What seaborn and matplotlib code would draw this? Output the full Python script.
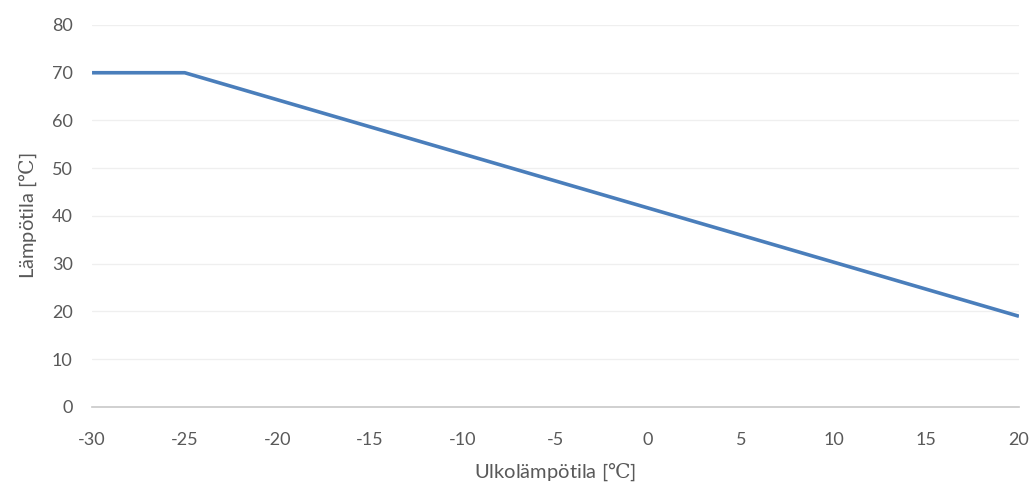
import matplotlib
matplotlib.use("Agg")
import matplotlib.pyplot as plt
import seaborn as sns
import pandas as pd

# Heating curve: supply temperature vs outdoor temperature
outdoor_temp = [-30, -25, 20]
supply_temp = [70, 70, 19]

x_ticks = list(range(-30, 21, 5))
y_ticks = list(range(0, 81, 10))

sns.set_theme(style="white")
plt.rcParams["font.family"] = ["Lato", "DejaVu Sans"]
plt.rcParams["mathtext.fontset"] = "custom"
plt.rcParams["mathtext.rm"] = "DejaVu Serif"

df = pd.DataFrame({"x": outdoor_temp, "y": supply_temp})

fig = plt.figure(figsize=(10.33, 4.88), dpi=100)
ax = fig.add_axes([0.0891, 0.166, 0.8973, 0.7828])

for v in y_ticks[1:]:
    ax.axhline(v, color="#efefef", linewidth=0.9, zorder=0)

sns.lineplot(data=df, x="x", y="y", ax=ax, color="#4a7ebb", linewidth=2.6,
             solid_joinstyle="round", solid_capstyle="butt")

ax.set_xlim(-30, 20)
ax.set_ylim(0, 80)
ax.set_xticks(x_ticks)
ax.set_yticks(y_ticks)
ax.set_xticklabels([str(t) for t in x_ticks])
ax.set_yticklabels([str(t) for t in y_ticks])
ax.tick_params(axis="both", length=0, labelsize=13, colors="#595959")
ax.tick_params(axis="x", pad=18)
ax.tick_params(axis="y", pad=14)

for side in ["top", "right", "left"]:
    ax.spines[side].set_visible(False)
ax.spines["bottom"].set_color("#c8c8c8")
ax.spines["bottom"].set_linewidth(1.2)

unit = r"[$\mathrm{℃}$]"
ax.set_xlabel("Ulkolämpötila " + unit, fontsize=14.5, color="#595959", labelpad=10)
ax.set_ylabel("Lämpötila " + unit, fontsize=14.5, color="#595959", labelpad=9)

fig.savefig("out.png", dpi=100)
